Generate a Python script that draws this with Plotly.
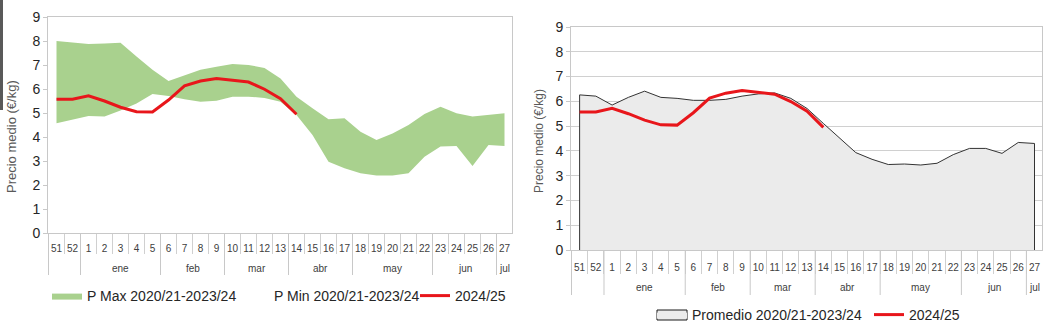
import plotly.graph_objects as go

W, H = 1054, 335

weeks = ["51", "52", "1", "2", "3", "4", "5", "6", "7", "8", "9", "10", "11", "12", "13",
         "14", "15", "16", "17", "18", "19", "20", "21", "22", "23", "24", "25", "26", "27"]
months = [" ", " ", "ene", "ene", "ene", "ene", "ene", "feb", "feb", "feb", "feb",
          "mar", "mar", "mar", "mar", "abr", "abr", "abr", "abr",
          "may", "may", "may", "may", "may", "jun", "jun", "jun", "jun", "jul"]

p_max = [8.00, 7.95, 7.87, 7.90, 7.93, 7.35, 6.80, 6.33, 6.58, 6.80, 6.93, 7.04, 7.00, 6.88,
         6.44, 5.68, 5.20, 4.74, 4.78, 4.22, 3.88, 4.15, 4.50, 4.96, 5.26, 4.99, 4.85, 4.92, 4.99]
p_min = [4.57, 4.74, 4.88, 4.85, 5.10, 5.40, 5.79, 5.71, 5.57, 5.47, 5.51, 5.68, 5.68, 5.63,
         5.47, 4.92, 4.08, 2.97, 2.70, 2.49, 2.40, 2.40, 2.49, 3.18, 3.60, 3.63, 2.79, 3.67, 3.63]
promedio = [6.26, 6.21, 5.85, 6.16, 6.41, 6.16, 6.12, 6.04, 6.04, 6.08, 6.21, 6.30, 6.34, 6.12,
            5.71, 5.11, 4.50, 3.93, 3.66, 3.45, 3.47, 3.43, 3.50, 3.85, 4.10, 4.10, 3.90, 4.34, 4.30]
actual = [5.57, 5.57, 5.72, 5.50, 5.24, 5.05, 5.04, 5.54, 6.13, 6.33, 6.44, 6.36, 6.29, 5.99,
          5.60, 4.95]

n_act = len(actual)
RED = "#e8161b"
FONT = "Liberation Sans"
GRIDC = "#c8c8c8"

fig = go.Figure()

# Left chart: range band (min invisible base + max filled to it) and current season
fig.add_trace(go.Scatter(x=weeks, y=p_min, mode="lines", line=dict(width=0, color="white"),
                         name="P Min 2020/21-2023/24", legend="legend2",
                         xaxis="x", yaxis="y", hoverinfo="skip"))
fig.add_trace(go.Scatter(x=weeks, y=p_max, mode="lines", line=dict(width=0, color="#a9d18e"),
                         fill="tonexty", fillcolor="#a9d18e",
                         name="P Max 2020/21-2023/24", legend="legend",
                         xaxis="x", yaxis="y"))
fig.add_trace(go.Scatter(x=weeks[:n_act], y=actual, mode="lines",
                         line=dict(width=3, color=RED), name="2024/25", legend="legend3",
                         xaxis="x", yaxis="y"))

# Right chart: average area (closed down to zero at both ends) and current season
area_x = [weeks[0]] + weeks + [weeks[-1]]
area_y = [0] + promedio + [0]
fig.add_trace(go.Scatter(x=area_x, y=area_y, mode="lines", fill="toself", fillcolor="#ebebeb",
                         line=dict(width=0, color="#ebebeb"),
                         name="Promedio 2020/21-2023/24", legend="legend4",
                         xaxis="x2", yaxis="y2"))
fig.add_trace(go.Scatter(x=area_x, y=area_y, mode="lines",
                         line=dict(width=1, color="#333333"), showlegend=False,
                         xaxis="x2", yaxis="y2", hoverinfo="skip"))
fig.add_trace(go.Scatter(x=weeks[:n_act], y=actual, mode="lines",
                         line=dict(width=3, color=RED), name="2024/25", legend="legend5",
                         xaxis="x2", yaxis="y2"))


def px_x(v):
    return v / W


def px_y(v):
    return 1 - v / H


xax = dict(type="category", categoryorder="array", categoryarray=weeks,
           tickmode="linear", tick0=0, dtick=1,
           showline=True, linecolor=GRIDC, linewidth=1, mirror=True,
           ticks="outside", tickson="boundaries", tickcolor="#d0d0d0", tickangle=0,
           tickfont=dict(family=FONT, size=10, color="#404040"), showgrid=False,
           zeroline=False)
yax = dict(range=[0, 9], dtick=1, showline=True, linecolor=GRIDC, linewidth=1, mirror=True,
           ticks="outside", ticklen=4, tickcolor=GRIDC,
           tickfont=dict(family=FONT, size=14, color="#262626"), zeroline=False)

fig.update_layout(
    width=W, height=H, margin=dict(l=0, r=0, t=0, b=0, autoexpand=False),
    paper_bgcolor="white", plot_bgcolor="white",
    font=dict(family=FONT, size=14, color="#262626"),
    xaxis=dict(domain=[px_x(48), px_x(512)], anchor="y", ticklen=20, ticklabelstandoff=6, **xax),
    yaxis=dict(domain=[px_y(233), px_y(17)], anchor="x", showgrid=False, **yax),
    xaxis2=dict(domain=[px_x(571), px_x(1042)], anchor="y2", ticklen=23, ticklabelstandoff=8, **xax),
    yaxis2=dict(domain=[px_y(250), px_y(27)], anchor="x2", showgrid=True, gridcolor="#d0d0d0", **yax),
    showlegend=True,
)

# Month grouping row below the week labels (positions derived from the months list)
group_starts = [i for i, m in enumerate(months) if i == 0 or m != months[i - 1]]
group_ends = group_starts[1:] + [len(months)]
for xref, y_axis_px, y_div_px, y_lab_px in (("x", 233, 275, 268), ("x2", 250, 295, 287)):
    for s, e in zip(group_starts, group_ends):
        fig.add_shape(type="line", xref=xref, yref="paper", x0=s - 0.5, x1=s - 0.5,
                      y0=px_y(y_axis_px), y1=px_y(y_div_px), line=dict(width=1, color=GRIDC))
        label = months[s].strip()
        if label:
            fig.add_annotation(text=label, xref=xref, yref="paper", x=(s + e - 1) / 2,
                               y=px_y(y_lab_px), showarrow=False, xanchor="center", yanchor="middle",
                               font=dict(family=FONT, size=10, color="#404040"))

leg = dict(orientation="h", yanchor="middle", xanchor="left", bgcolor="rgba(0,0,0,0)",
           font=dict(family=FONT, size=14, color="#262626"))
fig.update_layout(
    legend=dict(x=px_x(47), y=px_y(296), **leg),
    legend2=dict(x=px_x(234), y=px_y(296), **leg),
    legend3=dict(x=px_x(415), y=px_y(296), **leg),
    legend4=dict(x=px_x(652), y=px_y(315), **leg),
    legend5=dict(x=px_x(869), y=px_y(315), **leg),
)

# bordered swatch for the average-area legend entry
fig.add_shape(type="rect", xref="paper", yref="paper", x0=px_x(657), x1=px_x(687),
              y0=px_y(320), y1=px_y(310), fillcolor="#ebebeb", line=dict(width=1, color="#1a1a1a"))

fig.add_annotation(text="Precio medio (€/kg)", textangle=-90, x=px_x(11), y=px_y(137),
                   xref="paper", yref="paper", showarrow=False, xanchor="center", yanchor="middle",
                   font=dict(family=FONT, size=13, color="#595959"))
fig.add_annotation(text="Precio medio (€/kg)", textangle=-90, x=px_x(539), y=px_y(141),
                   xref="paper", yref="paper", showarrow=False, xanchor="center", yanchor="middle",
                   font=dict(family=FONT, size=12, color="#595959"))

fig.add_shape(type="rect", xref="paper", yref="paper", x0=0, x1=px_x(3), y0=px_y(110), y1=1,
              fillcolor="#595959", line=dict(width=0))

fig.write_html("out.html")
